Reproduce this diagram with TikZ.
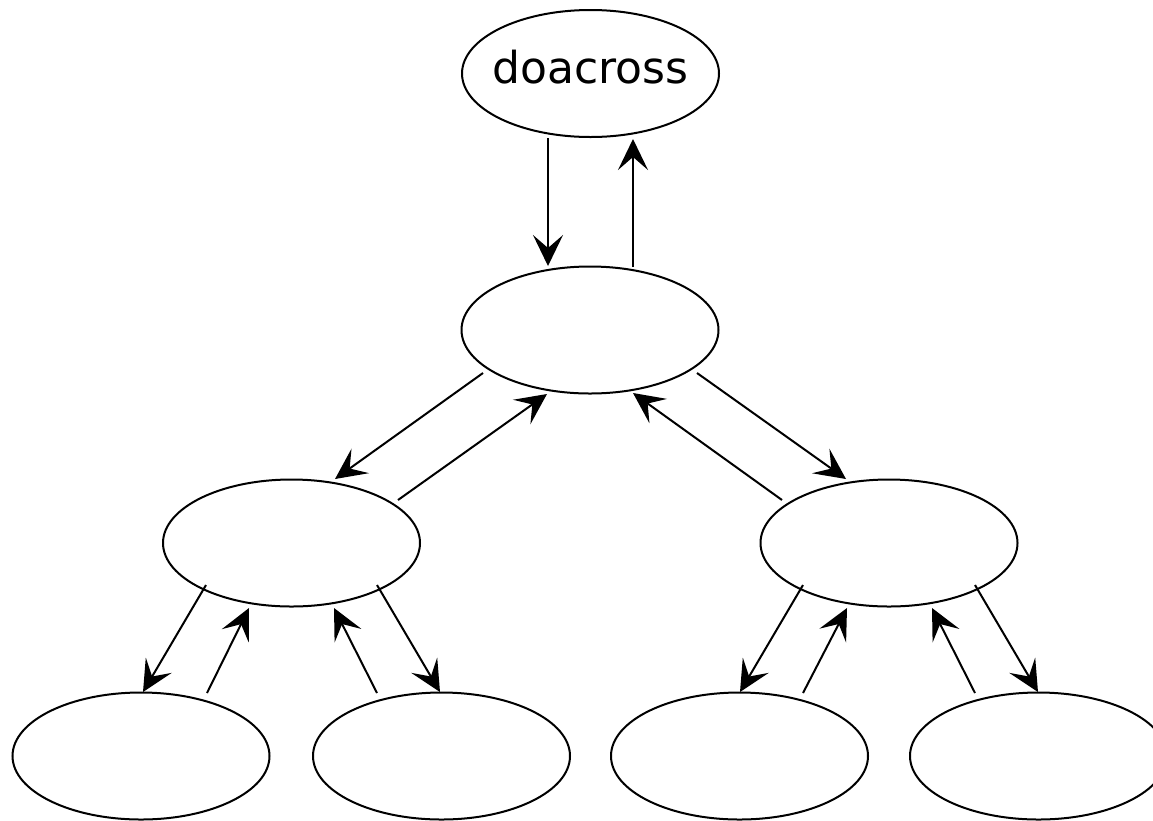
\documentclass[tikz,border=0pt]{standalone}
\usepackage{fontspec}
\setmainfont{DejaVu Sans}
\usetikzlibrary{shapes.geometric,arrows.meta}
\begin{document}
\begin{tikzpicture}[x=1pt,y=-1pt,
  oval/.style={draw, ellipse, line width=2pt, inner sep=0pt,
    minimum width=257pt, minimum height=127pt},
  arr/.style={line width=2pt, -{Stealth[length=31pt,width=30pt,inset=13pt]}},
  title/.style={font=\fontsize{44}{50}\selectfont}]
\useasboundingbox (0,0) rectangle (1153,820);

% tree of ovals
\node[oval] (top) at (590.5,73.5) {};
\node[title, anchor=base] (toptext) at (590.5,83) {doacross};
\node[oval] (mid) at (590,330) {};
\node[oval] (L)   at (291.5,543) {};
\node[oval] (R)   at (889,543) {};
\node[oval] (B1)  at (141,756) {};
\node[oval] (B2)  at (441.5,756) {};
\node[oval] (B3)  at (739.5,756) {};
\node[oval] (B4)  at (1038.5,756) {};

% root <-> middle
\draw[arr] ([shift={(-42.5,64.5)}]top.center) -- ([shift={(-42,-64)}]mid.center);
\draw[arr] ([shift={(43,-63)}]mid.center) -- ([shift={(42.5,65.5)}]top.center);

% middle <-> second level
\draw[arr] ([shift={(-107,43)}]mid.center) -- ([shift={(43.5,-64)}]L.center);
\draw[arr] ([shift={(106.5,-43)}]L.center) -- ([shift={(-43,64)}]mid.center);
\draw[arr] ([shift={(-107,-43)}]R.center) -- ([shift={(43,63)}]mid.center);
\draw[arr] ([shift={(107,43)}]mid.center) -- ([shift={(-43,-64)}]R.center);

% left subtree
\draw[arr] ([shift={(-85.5,42)}]L.center) -- ([shift={(2,-64)}]B1.center);
\draw[arr] ([shift={(66,-63)}]B1.center) -- ([shift={(-42.5,65)}]L.center);
\draw[arr] ([shift={(-64.5,-63)}]B2.center) -- ([shift={(42.5,65)}]L.center);
\draw[arr] ([shift={(85.5,42)}]L.center) -- ([shift={(-1.5,-64)}]B2.center);

% right subtree
\draw[arr] ([shift={(-86,42)}]R.center) -- ([shift={(0.5,-64)}]B3.center);
\draw[arr] ([shift={(63.5,-63)}]B3.center) -- ([shift={(-42,65)}]R.center);
\draw[arr] ([shift={(-63.5,-63)}]B4.center) -- ([shift={(43,65)}]R.center);
\draw[arr] ([shift={(86,42)}]R.center) -- ([shift={(-0.5,-64)}]B4.center);
\end{tikzpicture}
\end{document}
